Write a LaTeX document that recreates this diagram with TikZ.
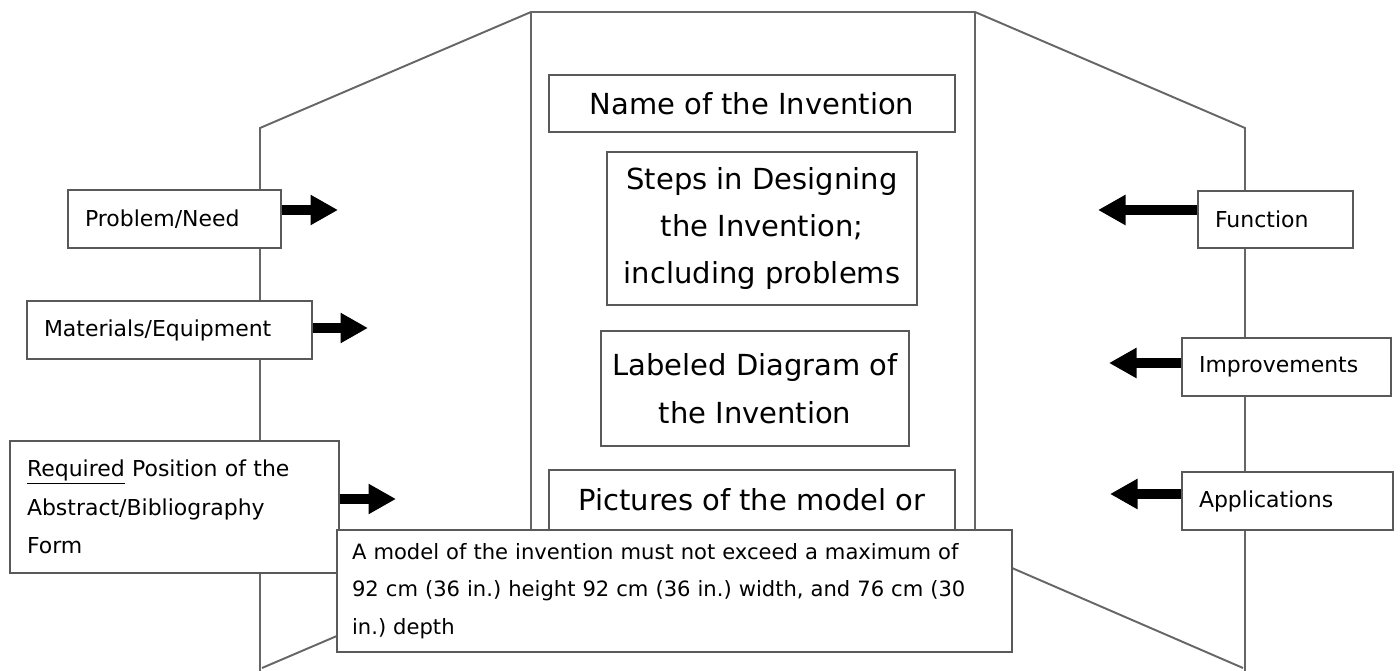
\documentclass[tikz,border=0pt]{standalone}
\usepackage{fontspec}
\setmainfont{DejaVu Sans}
\usepackage{tikz}
\usetikzlibrary{arrows.meta}
\frenchspacing

\begin{document}
\begin{tikzpicture}[x=0.02cm, y=-0.02cm,
    board/.style={draw=black!60, line width=1.1pt},
    box/.style={draw=black!65, line width=1.1pt, fill=white, align=center, inner sep=0pt,
                font=\fontsize{16.5}{27}\selectfont},
    tag/.style={draw=black!65, line width=1.1pt, fill=white, align=left, text width=#1,
                inner xsep=0.34cm, inner ysep=0pt, minimum height=1.16cm,
                font=\fontsize{12.5}{22}\selectfont},
    fat/.style={-{Triangle[length=0.55cm,width=0.57cm]}, line width=0.2cm, draw=black}]
    \useasboundingbox (0,0) rectangle (1400,671);
    \draw[board] (260,671) -- (260,128) -- (531,12) -- (975,12) -- (1245,128) -- (1245,671);
    \draw[board] (531,12) -- (531,600); \draw[board] (975,12) -- (975,600);
    \draw[board] (262,668) -- (531,553); \draw[board] (975,552) -- (1243,668);
    \node[box, minimum width=8.12cm, minimum height=1.14cm] (name) at (752,103.5) {Name of the Invention};
    \node[box, minimum width=6.2cm, minimum height=3.06cm] (steps) at (762,228.5) {Steps in Designing\\the Invention;\\including problems};
    \node[box, minimum width=6.16cm, minimum height=2.3cm] (diag) at (755,388.5) {Labeled Diagram of\\the Invention};
    \node[box, minimum width=8.12cm, anchor=north, text height=0.82cm, text depth=1cm] (pics) at (752,469) {Pictures of the model or};
    \node[tag=3.58cm] (need) at (174.5,219) {Problem/Need};
    \node[tag=5.02cm] (mat) at (169.5,330) {Materials/Equipment};
    \node[tag=5.9cm, minimum height=2.64cm] (req) at (174.5,507) {\underline{Required} Position of the\\Abstract/Bibliography\\Form};
    \node[tag=2.42cm, minimum height=1.14cm] (fun) at (1275.5,219.5) {Function};
    \node[tag=3.5cm] (imp) at (1286.5,367) {Improvements};
    \node[tag=3.54cm] (app) at (1287.5,501) {Applications};
    \node[tag=12.9cm, inner xsep=0.3cm, minimum height=2.44cm, font=\fontsize{12}{21.5}\selectfont] (note) at (674.5,591) {A model of the invention must not exceed a maximum of\\92 cm (36 in.) height 92 cm (36 in.) width, and 76 cm (30\\in.) depth};
    \coordinate (needtip) at (338,210); \coordinate (mattip) at (368,328); \coordinate (reqtip) at (396,499);
    \coordinate (funtip) at (1098,210); \coordinate (imptip) at (1109,363); \coordinate (apptip) at (1110,494);
    \draw[fat] (need.east |- needtip) -- (needtip); \draw[fat] (mat.east |- mattip) -- (mattip);
    \draw[fat] (req.east |- reqtip) -- (reqtip);
    \draw[fat] (fun.west |- funtip) -- (funtip); \draw[fat] (imp.west |- imptip) -- (imptip);
    \draw[fat] (app.west |- apptip) -- (apptip);
  \end{tikzpicture}
\end{document}
